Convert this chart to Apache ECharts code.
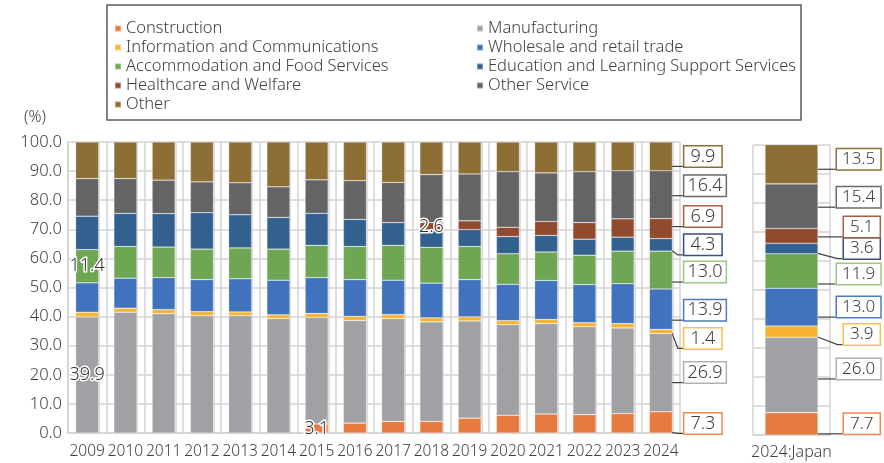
<!DOCTYPE html>
<html><head><meta charset="utf-8">
<script src="https://cdn.jsdelivr.net/npm/echarts@6/dist/echarts.min.js"></script>
<style>html,body{margin:0;padding:0;background:#fff}#c{width:884px;height:463px}</style>
</head><body><div id="c"></div>
<script>
// ---------- data ----------
const years = ['2009','2010','2011','2012','2013','2014','2015','2016','2017','2018','2019','2020','2021','2022','2023','2024'];
const japanCategory = ['2024:Japan'];
const seriesNames = ['Construction','Manufacturing','Information and Communications','Wholesale and retail trade','Accommodation and Food Services','Education and Learning Support Services','Healthcare and Welfare','Other Service','Other'];
const construction  = [null,null,null,null,null,null,3.1,3.4,4.0,4.0,5.1,6.1,6.5,6.3,6.7,7.3];
const manufacturing = [39.9,41.5,41.0,40.3,40.3,39.3,36.6,35.3,35.3,34.2,33.4,31.1,31.1,30.2,29.4,26.9];
const information   = [1.6,1.4,1.4,1.4,1.3,1.3,1.4,1.4,1.4,1.4,1.4,1.4,1.4,1.4,1.5,1.4];
const wholesale     = [10.1,10.3,11.0,11.0,11.4,11.9,12.3,12.6,11.8,11.9,12.8,12.5,13.4,13.1,13.7,13.9];
const accommodation = [11.4,10.9,10.5,10.5,10.6,10.7,11.1,11.4,12.0,12.3,11.4,10.5,9.8,10.1,11.2,13.0];
const education     = [11.5,11.4,11.5,12.5,11.4,10.9,11.0,9.3,7.8,5.9,5.8,5.9,5.7,5.5,4.8,4.3];
const healthcare    = [null,null,null,null,null,null,null,null,null,2.6,3.0,3.2,4.8,5.7,6.3,6.9];
const otherService  = [12.9,11.9,11.5,10.6,11.0,10.5,11.5,13.3,13.8,16.5,16.1,19.1,16.7,17.5,16.5,16.4];
const other         = [12.6,12.6,13.1,13.7,14.0,15.4,13.0,13.3,13.9,11.2,11.0,10.2,10.6,10.2,9.9,9.9];
const japan2024     = [7.7,26.0,3.9,13.0,11.9,3.6,5.1,15.4,13.5];
const yTicks = [0,10,20,30,40,50,60,70,80,90,100];

// ---------- styles ----------
const colors = ['#E67A3F','#A0A1A5','#F6B432','#4072BD','#6EA653','#33618F','#924A2E','#646466','#8D6F35'];
const boxBorder = ['#F0884E','#B0B0B0','#F7C24A','#4A7BC6','#9CC97E','#3A4C82','#A86048','#6A6A6A','#8D6F35'];
const insideLabelAt = {0:[6],1:[0],4:[0],6:[9]};   // which bars carry an inside label
const mainNudge = [1,0,7,1,2,0,-12,-9,0];            // label nudges (px), like the hand-placed originals
const japanNudge = [0,-6,3,0,3,0,-9,-9,-5];
const mainValues = [construction,manufacturing,information,wholesale,accommodation,education,healthcare,otherService,other];
const FONT = '"Noto Sans", sans-serif';
const GRID_C = '#D3D3D3';
const TXT = '#404040';
const fmt = p => Number(p.value).toFixed(1);
const isShort = v => v.toFixed(1).length <= 3;

const lastIdx = years.length - 1;
const series = [];
mainValues.forEach((vals, s) => {
  series.push({
    name: seriesNames[s], type: 'bar', stack: 'main', xAxisIndex: 0, yAxisIndex: 0,
    barWidth: 23,
    itemStyle: {color: colors[s], borderColor: 'rgba(255,255,255,0.35)', borderWidth: 0.6},
    data: vals.map((v, i) => {
      if (v == null) return v;
      if (i === lastIdx) {
        const hp = isShort(v) ? 6 : 3;
        return {value: v,
          label: {show: true, position: 'right', distance: 12, offset: [0, mainNudge[s]], formatter: fmt,
            fontFamily: FONT, fontWeight: 300, fontSize: 18, lineHeight: 18, color: TXT,
            backgroundColor: '#fff', borderColor: boxBorder[s], borderWidth: 1.5, padding: [1,hp,1,hp]},
          labelLine: {show: true, length2: 5, lineStyle: {color: TXT, width: 1.2}}};
      }
      if ((insideLabelAt[s] || []).includes(i)) {
        return {value: v,
          label: {show: true, position: 'inside', formatter: fmt, fontFamily: FONT, fontWeight: 300, fontSize: 18,
            color: '#333', textBorderColor: '#fff', textBorderWidth: 3}};
      }
      return v;
    })
  });
});
japan2024.forEach((v, s) => {
  const short = isShort(v);
  series.push({
    name: seriesNames[s], type: 'bar', stack: 'japan', xAxisIndex: 1, yAxisIndex: 1,
    barWidth: 53,
    itemStyle: {color: colors[s], borderColor: 'rgba(255,255,255,0.35)', borderWidth: 0.6},
    data: [{value: v,
      label: {show: true, position: 'right', distance: short ? 26 : 19, offset: [0, japanNudge[s]], formatter: fmt,
        fontFamily: FONT, fontWeight: 300, fontSize: 17, lineHeight: 17, color: TXT,
        backgroundColor: '#fff', borderColor: boxBorder[s], borderWidth: 1.5, padding: short ? [2,6,1,6] : [2,5,1,5]},
      labelLine: {show: true, length2: 5, lineStyle: {color: TXT, width: 1.2}}}]
  });
});

const catW = (680 - 68) / years.length;
const legendText = {fontFamily: FONT, fontWeight: 300, fontSize: 16.5, color: TXT, lineHeight: 19};
const option = {
  animation: false,
  backgroundColor: '#fff',
  legend: [
    {orient: 'vertical', left: 107, top: 5, icon: 'rect', itemWidth: 6, itemHeight: 6, itemGap: 0,
     borderColor: '#595959', borderWidth: 1.5, padding: [14,10,6,7],
     data: [seriesNames[0], seriesNames[2], seriesNames[4], seriesNames[6], seriesNames[8]],
     textStyle: Object.assign({width: 665}, legendText)},
    {orient: 'vertical', left: 467, top: 5, icon: 'rect', itemWidth: 6, itemHeight: 6, itemGap: 0,
     padding: [14,10,6,9],
     data: [seriesNames[1], seriesNames[3], seriesNames[5], seriesNames[7]],
     textStyle: legendText}
  ],
  grid: [
    {left: 68, right: 884 - 680, top: 142, bottom: 30},
    {left: 753, right: 884 - 830, top: 145, bottom: 28},
    {left: 68 + catW - 7.5, right: 884 - 680 + 7.5, top: 142, bottom: 30}
  ],
  xAxis: [
    {type: 'category', gridIndex: 0, data: years, boundaryGap: true,
     axisLine: {lineStyle: {color: GRID_C, width: 1.5}}, axisTick: {show: false},
     splitLine: {show: true, lineStyle: {color: GRID_C, width: 1.5}},
     axisLabel: {interval: 0, fontFamily: FONT, fontWeight: 300, fontSize: 15.5, color: TXT, margin: 11}},
    {type: 'category', gridIndex: 1, data: japanCategory, boundaryGap: true,
     axisLine: {lineStyle: {color: GRID_C, width: 1.5}}, axisTick: {show: false},
     splitLine: {show: true, lineStyle: {color: GRID_C, width: 1.5}},
     axisLabel: {interval: 0, fontFamily: FONT, fontWeight: 300, fontSize: 16, color: TXT, margin: 9}},
    {type: 'value', gridIndex: 2, min: 0, max: years.length - 1, interval: 1,
     axisLine: {show: false}, axisTick: {show: false}, axisLabel: {show: false},
     splitLine: {show: true, lineStyle: {color: GRID_C, width: 1.5}}}
  ],
  yAxis: [
    {type: 'value', gridIndex: 0, min: yTicks[0], max: yTicks[yTicks.length-1], interval: yTicks[1]-yTicks[0],
     name: '(%)', nameLocation: 'end', nameGap: 17,
     nameTextStyle: {fontFamily: FONT, fontWeight: 300, fontSize: 16, color: TXT, align: 'right', padding: [0, 22, 0, 0]},
     axisLine: {show: true, lineStyle: {color: GRID_C, width: 1.5}}, axisTick: {show: false},
     splitLine: {show: true, lineStyle: {color: GRID_C, width: 1.5}},
     axisLabel: {formatter: v => v.toFixed(1), fontFamily: FONT, fontWeight: 300, fontSize: 16.5, color: TXT, margin: 6}},
    {type: 'value', gridIndex: 1, min: yTicks[0], max: yTicks[yTicks.length-1], interval: yTicks[1]-yTicks[0],
     axisLine: {show: false}, axisTick: {show: false}, axisLabel: {show: false},
     splitLine: {show: true, lineStyle: {color: GRID_C, width: 1.5}}},
    {type: 'value', gridIndex: 2, min: 0, max: 1, show: false}
  ],
  series: series
};
const chart = echarts.init(document.getElementById('c'), null, {renderer: 'canvas'});
chart.setOption(option);
</script></body></html>
